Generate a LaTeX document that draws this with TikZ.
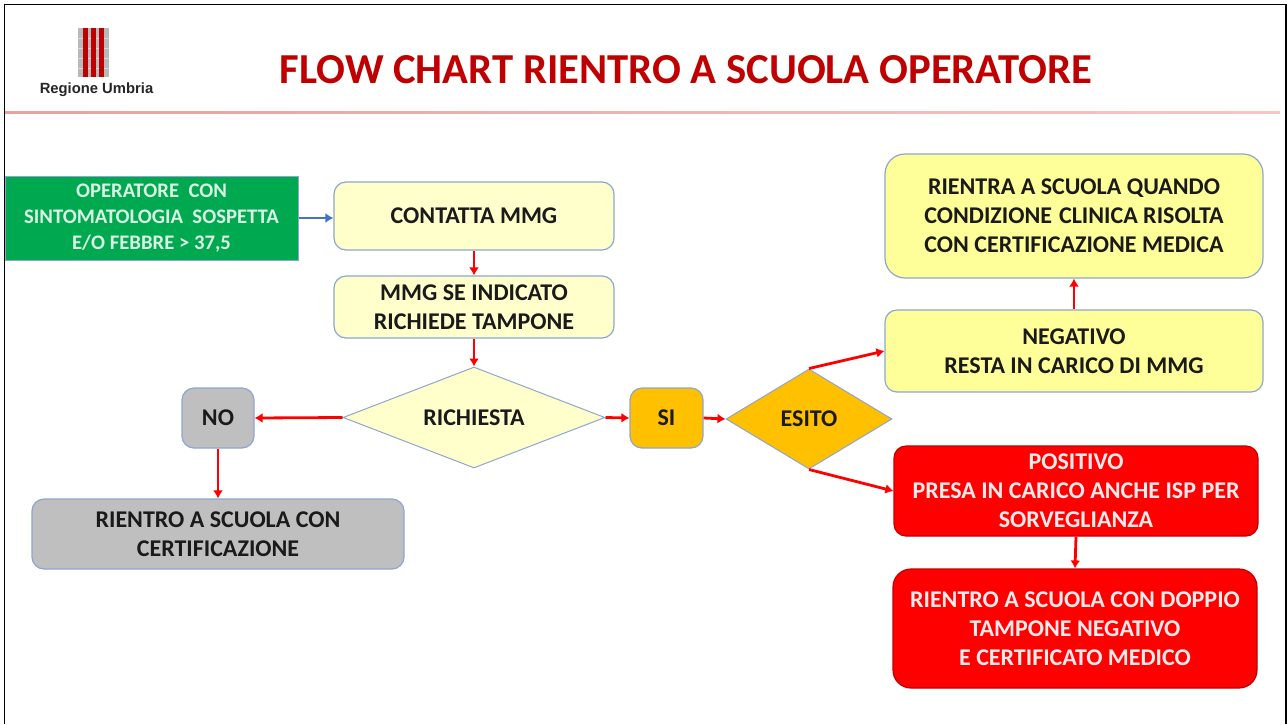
\documentclass[tikz,border=0pt]{standalone}
\usepackage{fontspec}
\setmainfont{Carlito}[BoldFont=Carlito Bold]
\newfontfamily\logofont{Liberation Sans}
\usetikzlibrary{shapes.geometric,arrows.meta}
\definecolor{palebox}{HTML}{FFFFCC}
\definecolor{yelbox}{HTML}{FFFF99}
\definecolor{orbox}{HTML}{FFC000}
\definecolor{greybox}{HTML}{BFBFBF}
\definecolor{greenbox}{HTML}{00A94F}
\definecolor{edgeblue}{HTML}{8EA6CF}
\definecolor{titlered}{HTML}{C00000}
\definecolor{rulepink}{HTML}{E8A0A0}
\definecolor{rulefade}{HTML}{F5C6C6}
\definecolor{arrowblue}{HTML}{4472C4}
\definecolor{darktext}{HTML}{1A1A1A}
\tikzset{
  lbl/.style={font=\bfseries\fontsize{24}{29}\selectfont,align=center,text=darktext,inner sep=0pt},
  rbox/.style={lbl,draw=edgeblue,line width=1.2pt,rounded corners=12pt},
  palerect/.style={rbox,fill=palebox},
  yelrect/.style={rbox,fill=yelbox},
  redrect/.style={rbox,fill=red,draw=red!75!black,text=white!92!red},
  flowred/.style={draw=red,line width=2.8pt,-{Latex[length=8pt,width=10pt]}},
  flowblue/.style={draw=arrowblue,line width=2.8pt,-{Latex[length=8pt,width=10pt]}},
  dia/.style={lbl,diamond,aspect=2.4,draw=edgeblue,line width=1pt}
}
\begin{document}
\begin{tikzpicture}[x=1pt,y=-1pt]
\useasboundingbox (0,0) rectangle (1287,724);
\fill[white] (0,0) rectangle (1287,724);
\draw[black,line width=1.6pt] (4.5,724) -- (4.5,4.5) -- (1286,4.5) -- (1286,724);
\shade[left color=rulepink,right color=rulefade] (5,111.3) rectangle (1280,113.5);
% logo
\fill[gray!55] (78,28) rectangle (109,77);
\foreach \sy in {38,48,58,68}{\fill[gray!30] (78,\sy) rectangle (109,\sy+1);}
\foreach \sx in {85,93,101}{\fill[red!75!black] (\sx-2.5,28) rectangle (\sx+2.5,77);}
\node[font=\logofont\bfseries\fontsize{14.8}{16}\selectfont,text=black!85,inner sep=0pt] (logotext) at (96.5,89.5) {Regione Umbria};
\node[font=\bfseries\fontsize{42.7}{46}\selectfont,text=titlered,inner sep=0pt] (title) at (686,69.5) {FLOW CHART RIENTRO A SCUOLA OPERATORE};
% boxes
\node[lbl,font=\bfseries\fontsize{20.7}{26}\selectfont,rectangle,fill=greenbox,draw=edgeblue,line width=1pt,text=white!85!greenbox,minimum width=293pt,minimum height=84pt] (oper) at (151.5,218) {\rule{0pt}{3pt}OPERATORE\ \ CON\\SINTOMATOLOGIA\ \ SOSPETTA\\E/O FEBBRE > 37,5};
\node[palerect,minimum width=280pt,minimum height=68pt] (contatta) at (474,216) {CONTATTA MMG};
\node[palerect,minimum width=280pt,minimum height=62pt] (mmg) at (474,307) {MMG SE INDICATO\\RICHIEDE TAMPONE};
\node[dia,fill=palebox,minimum width=262pt,minimum height=101pt] (richiesta) at (474,417.5) {RICHIESTA};
\node[rbox,fill=greybox,minimum width=72pt,minimum height=60pt] (no) at (218,418) {NO};
\node[rbox,fill=greybox,minimum width=372pt,minimum height=70pt] (rientrog) at (218,534) {RIENTRO A SCUOLA CON\\CERTIFICAZIONE};
\node[rbox,fill=orbox,minimum width=73pt,minimum height=60pt] (si) at (666.5,418) {SI};
\node[dia,fill=orbox,minimum width=166pt,minimum height=100pt] (esito) at (809,419) {ESITO};
\node[yelrect,minimum width=378pt,minimum height=124pt,rounded corners=20pt] (rientra) at (1074,216) {RIENTRA A SCUOLA QUANDO\\CONDIZIONE\hspace{7pt}CLINICA RISOLTA\\CON CERTIFICAZIONE MEDICA};
\node[yelrect,minimum width=378pt,minimum height=82pt] (neg) at (1074,351) {NEGATIVO\\RESTA IN CARICO DI MMG};
\node[redrect,minimum width=364pt,minimum height=90pt] (pos) at (1076,491) {POSITIVO\\PRESA IN CARICO ANCHE ISP PER\\SORVEGLIANZA};
\node[redrect,minimum width=364pt,minimum height=119pt,rounded corners=18pt] (rosso) at (1075,628.5) {RIENTRO A SCUOLA CON DOPPIO\\TAMPONE NEGATIVO\\E CERTIFICATO MEDICO};
% connectors
\draw[flowblue] (oper.east) -- (oper.east -| contatta.west);
\draw[flowred] (contatta.south) -- (mmg.north);
\draw[flowred] (mmg.south) -- (richiesta.north);
\draw[flowred] (richiesta.west) -- (no.east);
\draw[flowred] (no.south) -- (rientrog.north);
\draw[flowred] (richiesta.east) -- (si.west);
\draw[flowred] (si.east) -- (esito.west);
\draw[flowred] (esito.north) -- (neg.west);
\draw[flowred] (esito.south) -- (pos.west);
\draw[flowred] (neg.north) -- (rientra.south);
\draw[flowred] (pos.south) -- (rosso.north);
\end{tikzpicture}
\end{document}
